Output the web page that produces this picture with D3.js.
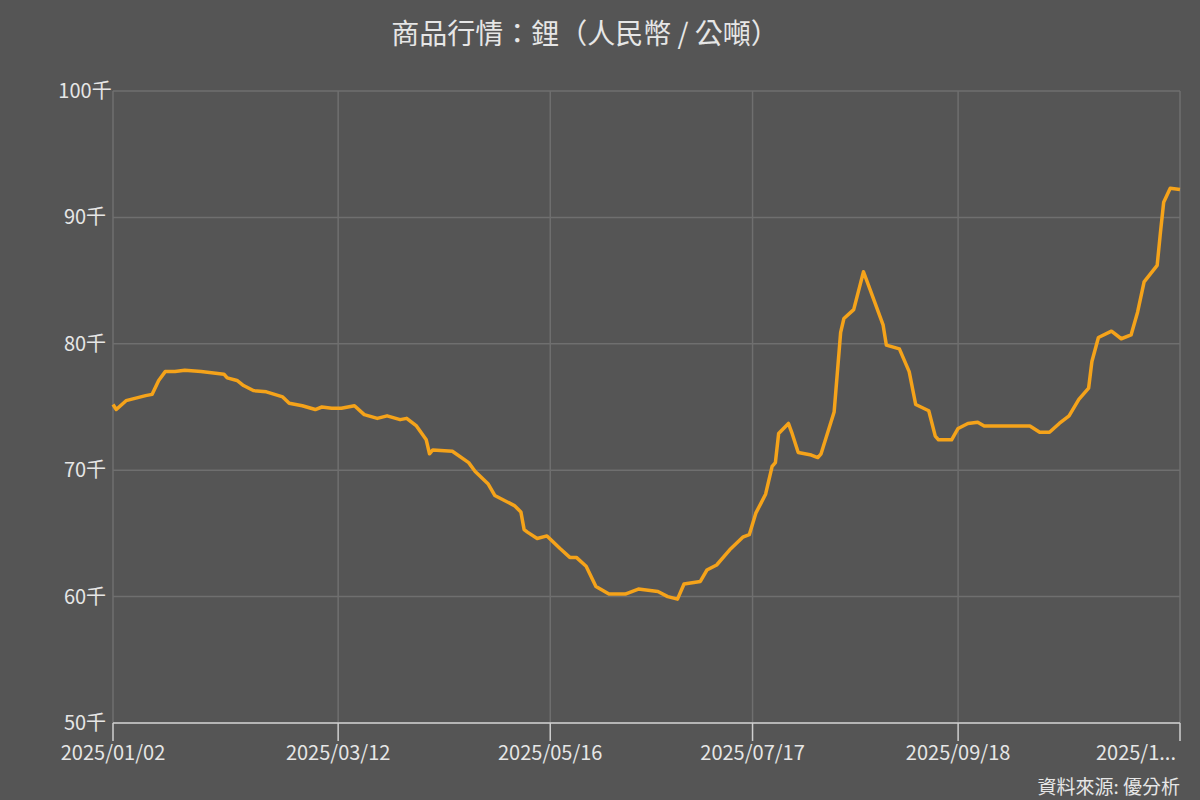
<!DOCTYPE html>
<html><head><meta charset="utf-8">
<script src="https://cdn.jsdelivr.net/npm/d3@7"></script>
<style>body{margin:0;background:#555555;}svg{display:block;font-family:"Noto Sans CJK TC","Noto Sans",sans-serif;}</style>
</head><body><svg id="c" width="1200" height="800"></svg>
<script>
const dates=["2025-01-02","2025-01-03","2025-01-06","2025-01-12","2025-01-14","2025-01-16","2025-01-18","2025-01-21","2025-01-24","2025-01-29","2025-02-05","2025-02-06","2025-02-09","2025-02-11","2025-02-14","2025-02-18","2025-02-23","2025-02-25","2025-03-01","2025-03-05","2025-03-07","2025-03-10","2025-03-13","2025-03-17","2025-03-20","2025-03-24","2025-03-27","2025-03-31","2025-04-02","2025-04-05","2025-04-08","2025-04-09","2025-04-10","2025-04-16","2025-04-21","2025-04-23","2025-04-27","2025-04-29","2025-05-05","2025-05-07","2025-05-08","2025-05-09","2025-05-12","2025-05-15","2025-05-19","2025-05-22","2025-05-24","2025-05-27","2025-05-30","2025-06-03","2025-06-08","2025-06-12","2025-06-18","2025-06-21","2025-06-24","2025-06-26","2025-07-01","2025-07-03","2025-07-06","2025-07-10","2025-07-14","2025-07-16","2025-07-18","2025-07-21","2025-07-23","2025-07-24","2025-07-25","2025-07-28","2025-07-29","2025-07-31","2025-08-04","2025-08-06","2025-08-07","2025-08-11","2025-08-13","2025-08-14","2025-08-17","2025-08-19","2025-08-20","2025-08-22","2025-08-26","2025-08-27","2025-08-31","2025-09-03","2025-09-05","2025-09-09","2025-09-11","2025-09-12","2025-09-16","2025-09-18","2025-09-21","2025-09-24","2025-09-26","2025-10-02","2025-10-10","2025-10-13","2025-10-16","2025-10-19","2025-10-22","2025-10-25","2025-10-28","2025-10-29","2025-10-31","2025-11-04","2025-11-07","2025-11-10","2025-11-12","2025-11-14","2025-11-18","2025-11-19","2025-11-20","2025-11-22","2025-11-25"];
const prices=[75.2,74.8,75.5,75.9,76.0,77.1,77.8,77.8,77.9,77.8,77.6,77.3,77.1,76.7,76.3,76.2,75.8,75.3,75.1,74.8,75.0,74.9,74.9,75.1,74.4,74.1,74.3,74.0,74.1,73.5,72.4,71.3,71.6,71.5,70.6,69.9,68.9,68.0,67.2,66.7,65.3,65.1,64.6,64.8,63.8,63.1,63.1,62.4,60.8,60.2,60.2,60.6,60.4,60.0,59.8,61.0,61.2,62.1,62.5,63.7,64.7,64.9,66.6,68.1,70.3,70.6,72.9,73.7,73.0,71.4,71.2,71.0,71.3,74.6,80.9,82.0,82.7,84.7,85.7,84.3,81.5,79.9,79.6,77.8,75.2,74.7,72.7,72.4,72.4,73.3,73.7,73.8,73.5,73.5,73.5,73.0,73.0,73.7,74.3,75.6,76.5,78.6,80.5,81.0,80.4,80.7,82.5,84.9,86.2,88.8,91.2,92.3,92.2];
const xTicks=["2025-01-02","2025-03-12","2025-05-16","2025-07-17","2025-09-18"];
const xTickLabels=["2025/01/02","2025/03/12","2025/05/16","2025/07/17","2025/09/18"];
const lastLabel="2025/1...";
const yTicks=[50,60,70,80,90,100];
const title="商品行情：鋰（人民幣 / 公噸）";
const source="資料來源: 優分析";

const p=d3.timeParse("%Y-%m-%d");
const svg=d3.select("#c");
const L=113,R=1180,T=91,B=723;
const x=d3.scaleTime().domain([p(dates[0]),p(dates[dates.length-1])]).range([L,R]);
const y=d3.scaleLinear().domain([50,100]).range([B,T]);
const txt="#e6e6e6";
svg.append("text").attr("x",585).attr("y",44).attr("text-anchor","middle").attr("fill",txt).attr("font-size",28).text(title);
// grid
svg.append("g").selectAll("line").data(yTicks).join("line").attr("x1",L).attr("x2",R).attr("y1",d=>y(d)).attr("y2",d=>y(d)).attr("stroke","#6f6f6f").attr("stroke-width",1.5);
const vx=xTicks.map(d=>x(p(d))).concat([R]);
svg.append("g").selectAll("line").data(vx).join("line").attr("x1",d=>d).attr("x2",d=>d).attr("y1",T).attr("y2",B).attr("stroke","#6f6f6f").attr("stroke-width",1.5);
// y labels
svg.append("g").selectAll("text").data(yTicks).join("text").attr("x",L-28).attr("y",d=>y(d)+7).attr("text-anchor","middle").attr("fill",txt).attr("font-size",20).text(d=>d+"千");
// x axis
svg.append("line").attr("x1",L).attr("x2",R).attr("y1",B).attr("y2",B).attr("stroke","#cfcfcf").attr("stroke-width",1.5);
svg.append("g").selectAll("line").data(vx).join("line").attr("x1",d=>d).attr("x2",d=>d).attr("y1",B).attr("y2",B+18).attr("stroke","#cfcfcf").attr("stroke-width",1.5);
svg.append("g").selectAll("text").data(xTicks).join("text").attr("x",d=>x(p(d))).attr("y",760).attr("text-anchor","middle").attr("fill",txt).attr("font-size",20).text((d,i)=>xTickLabels[i]);
svg.append("text").attr("x",1176).attr("y",760).attr("text-anchor","end").attr("fill",txt).attr("font-size",20).text(lastLabel);
svg.append("text").attr("x",1180).attr("y",794).attr("text-anchor","end").attr("fill",txt).attr("font-size",19).text(source);
// line
const data=dates.map((d,i)=>({d:p(d),v:prices[i]}));
svg.append("path").datum(data).attr("fill","none").attr("stroke","#f5a31a").attr("stroke-width",3.5).attr("stroke-linejoin","round")
 .attr("d",d3.line().x(d=>x(d.d)).y(d=>y(d.v)));
</script></body></html>
